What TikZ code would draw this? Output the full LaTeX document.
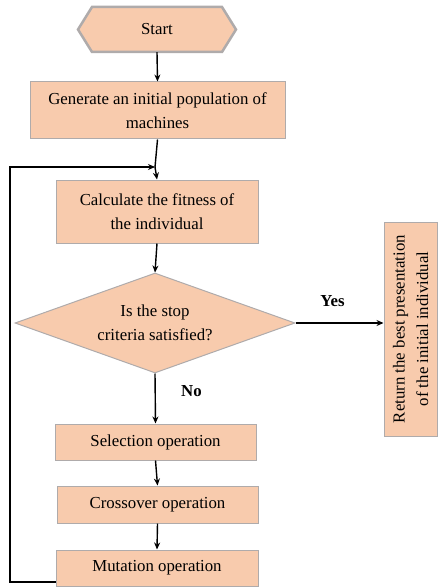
\documentclass[tikz,border=0pt]{standalone}
\usepackage{fontspec}
\setmainfont{Liberation Serif}
\usetikzlibrary{shapes.geometric,arrows.meta}
\definecolor{peach}{HTML}{F8CBAD}
\definecolor{edge}{HTML}{AFABAB}
\begin{document}
\begin{tikzpicture}[x=1pt,y=-1pt,
  box/.style={draw=edge,line width=1pt,fill=peach,align=center,inner sep=2pt,
    font=\fontsize{16.8}{23.5}\selectfont},
  arr/.style={-{Stealth[length=7pt,width=6pt]},line width=1.4pt,black},
  lbl/.style={font=\fontsize{16.8}{19}\selectfont\bfseries}]
\useasboundingbox (0,0) rectangle (437,588);
% start hexagon
\fill[peach,draw=edge,line width=2.5pt] (78,29.5) -- (92,7) -- (222,7) -- (236,29.5) -- (222,52) -- (92,52) -- cycle;
\node[font=\fontsize{16.8}{19}\selectfont,minimum height=45pt,minimum width=130pt,inner sep=0] (start) at (157,29.5) {Start};
\node[box,minimum width=255pt,minimum height=57pt] (gen) at (157.5,110.5) {Generate an initial population of\\machines};
\node[box,minimum width=202pt,minimum height=63pt] (calc) at (157,211.5) {Calculate the fitness of\\the individual};
\node[diamond,draw=edge,line width=1pt,fill=peach,aspect=2.8,minimum width=280pt,minimum height=100pt,inner sep=0,align=center,
  font=\fontsize{16.8}{23.5}\selectfont] (dec) at (155,323) {Is the stop\\criteria satisfied?};
\node[box,rotate=90,minimum width=214pt,minimum height=53pt] (ret) at (410.5,329) {Return the best presentation\\of the initial individual};
\node[box,minimum width=201pt,minimum height=36pt] (sel) at (155.5,442) {Selection operation};
\node[box,minimum width=201pt,minimum height=37pt] (cross) at (157.5,504.5) {Crossover operation};
\node[box,minimum width=202pt,minimum height=36pt] (mut) at (157,568) {Mutation operation};
\coordinate (loopin) at (155,167);
\draw[arr] (start.south) -- (gen.north);
\draw[line width=1.4pt] (gen.south) -- (loopin);
\draw[arr] (loopin) -- (calc.north);
\draw[arr] (calc.south) -- (dec.north);
\draw[arr] (dec.east) -- (dec.east -| ret.north) node[lbl,pos=0.42,above=12pt] {Yes};
\draw[arr] (dec.south) -- (sel.north) node[lbl,pos=0.35,right=22pt] {No};
\draw[arr] (sel.south) -- (cross.north);
\draw[arr] (cross.south) -- (mut.north);
\draw[arr] (mut.west |- 0,582) -- (10,582) -- (10,167) -- (loopin);
\end{tikzpicture}
\end{document}
